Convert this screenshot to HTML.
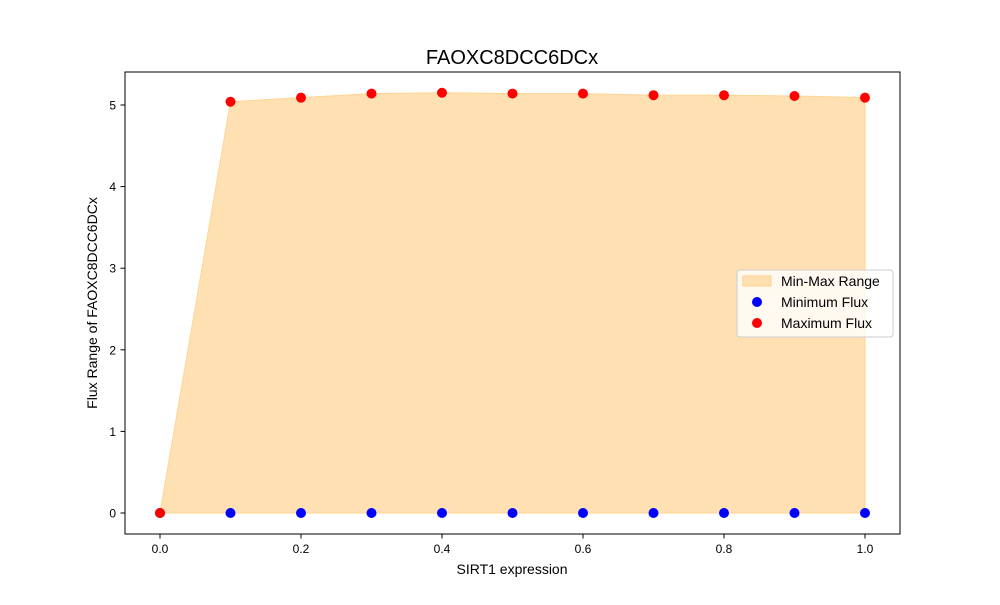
<!DOCTYPE html>
<html><head><meta charset="utf-8"><style>
body{margin:0;background:#fff;}
svg text{font-family:"Liberation Sans","DejaVu Sans",sans-serif;}
</style></head><body>
<svg id="chart" width="1000" height="600" xmlns="http://www.w3.org/2000/svg">
<rect width="1000" height="600" fill="#fff"/>
<text x="512" y="64" font-size="20" text-anchor="middle">FAOXC8DCC6DCx</text>
<g id="plot"></g>
<rect x="125" y="72" width="775" height="462" fill="none" stroke="#000" stroke-width="1"/>
<text x="512" y="574" font-size="14" text-anchor="middle">SIRT1 expression</text>
<text transform="translate(97,303) rotate(-90)" font-size="14" text-anchor="middle">Flux Range of FAOXC8DCC6DCx</text>
<g>
<rect x="737" y="270" width="156" height="67" rx="3" fill="#fff" fill-opacity="0.8" stroke="#ccc"/>
<rect x="743" y="276" width="28" height="10" fill="#ffe0b3" stroke="#ffd08a"/>
<text x="781" y="286" font-size="14">Min-Max Range</text>
<circle cx="757" cy="302" r="5" fill="#0000ff"/>
<text x="781" y="307" font-size="14">Minimum Flux</text>
<circle cx="757" cy="323" r="5" fill="#ff0000"/>
<text x="781" y="328" font-size="14">Maximum Flux</text>
</g>
</svg>
<script>
const xValues=[0,0.1,0.2,0.3,0.4,0.5,0.6,0.7,0.8,0.9,1.0];
const minFlux=[0,0,0,0,0,0,0,0,0,0,0];
const maxFlux=[0,5.04,5.09,5.14,5.15,5.14,5.14,5.12,5.12,5.11,5.09];
const xTicks=[0,0.2,0.4,0.6,0.8,1.0];
const xTickLabels=["0.0","0.2","0.4","0.6","0.8","1.0"];
const yTicks=[0,1,2,3,4,5];
const yTickLabels=["0","1","2","3","4","5"];
const NS="http://www.w3.org/2000/svg";
const sx=v=>160+v*705;
const sy=v=>513-v*81.6;
const g=document.getElementById('plot');
function mk(t,a){const e=document.createElementNS(NS,t);for(const k in a)e.setAttribute(k,a[k]);g.appendChild(e);return e;}
let pts=xValues.map((x,i)=>sx(x)+","+sy(maxFlux[i]));
pts=pts.concat(xValues.slice().reverse().map((x,j)=>sx(x)+","+sy(minFlux[xValues.length-1-j])));
const area=mk('polygon',{points:pts.join(' '),fill:'#ffe0b3',stroke:'#ffd591','stroke-width':1});


xTicks.forEach((t,i)=>{
 const l=mk('line',{x1:sx(t),x2:sx(t),y1:534,y2:538.5,stroke:'#000'});
 
 
 const tx=mk('text',{x:sx(t),y:553,'font-size':12,'text-anchor':'middle'});tx.textContent=xTickLabels[i];
 
 
});
yTicks.forEach((t,i)=>{
 const l=mk('line',{x1:120.5,x2:125,y1:sy(t),y2:sy(t),stroke:'#000'});
 
 
 const tx=mk('text',{x:116,y:sy(t)+4.5,'font-size':12,'text-anchor':'end'});tx.textContent=yTickLabels[i];
 
 
});
xValues.forEach((x,i)=>{
 const c=mk('circle',{cx:sx(x),cy:sy(minFlux[i]),r:5,fill:'#0000ff'});
 
 
});
xValues.forEach((x,i)=>{
 const c=mk('circle',{cx:sx(x),cy:sy(maxFlux[i]),r:5,fill:'#ff0000'});
 
 
});
</script>
</body></html>
